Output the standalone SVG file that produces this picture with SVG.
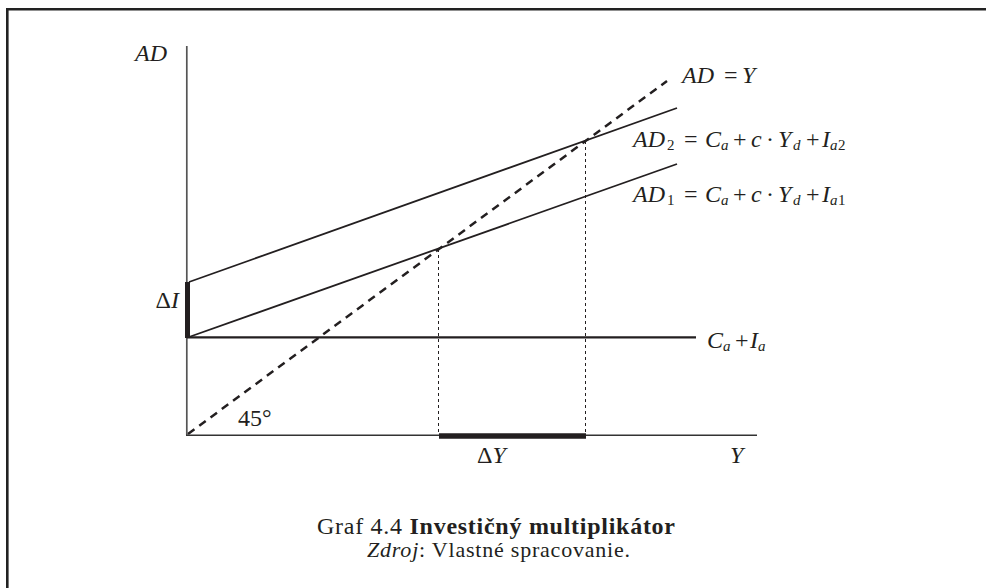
<svg xmlns="http://www.w3.org/2000/svg" width="986" height="588" viewBox="0 0 986 588">
<style>
.t{font-family:"Liberation Serif","DejaVu Serif",serif;fill:#231f20}
.i{font-style:italic;font-size:24px}
.r{font-style:normal;font-size:24px}
.s{font-style:italic;font-size:15px}
.sr{font-style:normal;font-size:15px}
.ln{stroke:#231f20;fill:none}
</style>
<rect width="986" height="588" fill="#fff"/>
<path d="M7.3,588 V9.3 H986" fill="none" stroke="#222" stroke-width="2.6"/>
<g id="connectors">
<g id="axes">
<line x1="186.8" y1="46" x2="186.8" y2="435" stroke="#555" stroke-width="1.7"/>
<line x1="186" y1="435.3" x2="757" y2="435.3" stroke="#333" stroke-width="1.5"/>
</g>
<line id="ca-ia" x1="187" y1="337.3" x2="696" y2="337.3" class="ln" stroke-width="2.2"/>
<line id="ad2" x1="189" y1="282" x2="677" y2="108" class="ln" stroke-width="1.8"/>
<line id="ad1" x1="189" y1="337" x2="677" y2="164" class="ln" stroke-width="1.8"/>
<line id="ad-y" x1="188" y1="434" x2="667" y2="81" class="ln" stroke-width="2.5" stroke-dasharray="8,6"/>
<line id="v1" x1="438.5" y1="249" x2="438.5" y2="435" class="ln" stroke-width="1" stroke-dasharray="3,3"/>
<line id="v2" x1="585.5" y1="141" x2="585.5" y2="435" class="ln" stroke-width="1" stroke-dasharray="3,3"/>
<line id="delta-i" x1="187.5" y1="282" x2="187.5" y2="338" stroke="#231f20" stroke-width="5"/>
<line id="delta-y" x1="439" y1="436" x2="586" y2="436" stroke="#231f20" stroke-width="5.5"/>
</g>
<g id="label-ad"><text class="t i" x="135" y="61">AD</text></g>
<g id="label-y"><text class="t i" x="730" y="463">Y</text></g>
<g id="label-di"><text class="t" x="179" y="308" text-anchor="end"><tspan class="r">Δ</tspan><tspan class="i">I</tspan></text></g>
<g id="label-dy"><text class="t" x="477" y="463"><tspan class="r">Δ</tspan><tspan class="i">Y</tspan></text></g>
<g id="label-45"><text class="t r" x="238" y="426">45°</text></g>
<g id="label-ady"><text class="t"><tspan class="i" x="682" y="83">AD</tspan><tspan class="r" x="724" y="83">=</tspan><tspan class="i" x="742" y="83">Y</tspan></text></g>
<g id="label-ad2"><text class="t"><tspan class="i" x="633" y="147">AD</tspan><tspan class="sr" x="667" y="150">2</tspan><tspan class="r" x="684" y="147">=</tspan><tspan class="i" x="705" y="147">C</tspan><tspan class="s" x="721" y="150">a</tspan><tspan class="r" x="733" y="147">+</tspan><tspan class="i" x="751" y="147">c</tspan><tspan class="r" x="766" y="147">·</tspan><tspan class="i" x="778" y="147">Y</tspan><tspan class="s" x="793" y="150">d</tspan><tspan class="r" x="806" y="147">+</tspan><tspan class="i" x="822" y="147">I</tspan><tspan class="s" x="830" y="150">a</tspan><tspan class="sr" x="838" y="150">2</tspan></text></g>
<g id="label-ad1"><text class="t"><tspan class="i" x="633" y="202">AD</tspan><tspan class="sr" x="667" y="205">1</tspan><tspan class="r" x="684" y="202">=</tspan><tspan class="i" x="705" y="202">C</tspan><tspan class="s" x="721" y="205">a</tspan><tspan class="r" x="733" y="202">+</tspan><tspan class="i" x="751" y="202">c</tspan><tspan class="r" x="766" y="202">·</tspan><tspan class="i" x="778" y="202">Y</tspan><tspan class="s" x="793" y="205">d</tspan><tspan class="r" x="806" y="202">+</tspan><tspan class="i" x="822" y="202">I</tspan><tspan class="s" x="830" y="205">a</tspan><tspan class="sr" x="838" y="205">1</tspan></text></g>
<g id="label-caia"><text class="t"><tspan class="i" x="707" y="348">C</tspan><tspan class="s" x="723" y="351">a</tspan><tspan class="r" x="735" y="348">+</tspan><tspan class="i" x="750" y="348">I</tspan><tspan class="s" x="758" y="351">a</tspan></text></g>
<g id="caption">
<text class="t" x="317" y="534" font-size="24" textLength="358" lengthAdjust="spacing">Graf 4.4 <tspan font-weight="bold">Investičný multiplikátor</tspan></text>
<text class="t" x="367" y="557" font-size="22" textLength="263" lengthAdjust="spacing"><tspan font-style="italic">Zdroj</tspan>: Vlastné spracovanie.</text>
</g>
</svg>
